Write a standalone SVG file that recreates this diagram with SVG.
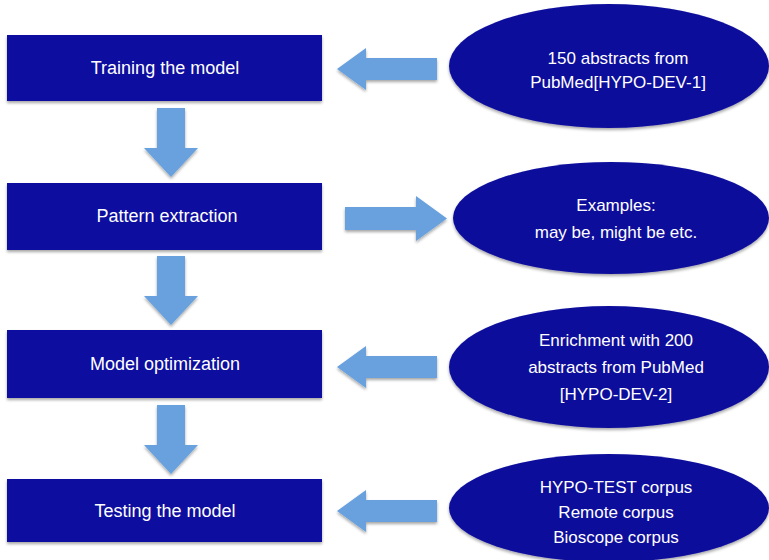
<svg xmlns="http://www.w3.org/2000/svg" width="769" height="560" viewBox="0 0 769 560">
<defs>
<filter id="sh" x="-10%" y="-10%" width="120%" height="130%">
<feDropShadow dx="0" dy="2" stdDeviation="1.5" flood-color="#000" flood-opacity="0.35"/>
</filter>
<style>
.box{fill:#0a0aa0;filter:url(#sh)}
.ell{fill:#0a0a9c;filter:url(#sh)}
.arr{fill:#67a1dd;filter:url(#sh)}
.t{font-family:"Liberation Sans",Arial,sans-serif;font-size:17px;fill:#ffffff;text-anchor:middle}
.b{font-size:18px}
</style>
</defs>
<rect width="769" height="560" fill="#ffffff"/>
<g id="connectors">
<path class="arr" d="M157,108 H185 V148 H198 L171,177 L144,148 H157 Z"/>
<path class="arr" d="M157,256 H185 V296 H198 L171,325 L144,296 H157 Z"/>
<path class="arr" d="M157,405 H185 V445 H198 L171,474 L144,445 H157 Z"/>
<path class="arr" d="M437,58 V80 H366 V90 L337,69 L366,48 V58 Z"/>
<path class="arr" d="M345,207 H416 V196 L447,218.5 L416,241 V230 H345 Z"/>
<path class="arr" d="M437,356 V378 H366 V388 L337,367 L366,346 V356 Z"/>
<path class="arr" d="M437,500 V522 H366 V532 L337,511 L366,490 V500 Z"/>
</g>
<g id="n1"><rect class="box" x="7" y="35" width="315" height="66"/><text class="t b" x="165" y="74">Training the model</text></g>
<g id="n2"><rect class="box" x="7" y="183" width="315" height="67"/><text class="t b" x="167" y="222">Pattern extraction</text></g>
<g id="n3"><rect class="box" x="7" y="330" width="315" height="68"/><text class="t b" x="165" y="370">Model optimization</text></g>
<g id="n4"><rect class="box" x="7" y="479" width="315" height="63"/><text class="t b" x="165" y="517">Testing the model</text></g>
<g id="e1"><ellipse class="ell" cx="609" cy="66" rx="160" ry="62"/><text class="t" x="618" y="64">150 abstracts from</text><text class="t" x="618" y="88">PubMed[HYPO-DEV-1]</text></g>
<g id="e2"><ellipse class="ell" cx="611" cy="218" rx="158" ry="56"/><text class="t" x="616" y="211">Examples:</text><text class="t" x="616" y="238">may be, might be etc.</text></g>
<g id="e3"><ellipse class="ell" cx="609" cy="367" rx="160" ry="61"/><text class="t" x="616" y="346">Enrichment with 200</text><text class="t" x="616" y="373">abstracts from PubMed</text><text class="t" x="616" y="400">[HYPO-DEV-2]</text></g>
<g id="e4"><ellipse class="ell" cx="609" cy="508" rx="160" ry="54"/><text class="t" x="616" y="493">HYPO-TEST corpus</text><text class="t" x="616" y="518">Remote corpus</text><text class="t" x="616" y="543">Bioscope corpus</text></g>
</svg>
